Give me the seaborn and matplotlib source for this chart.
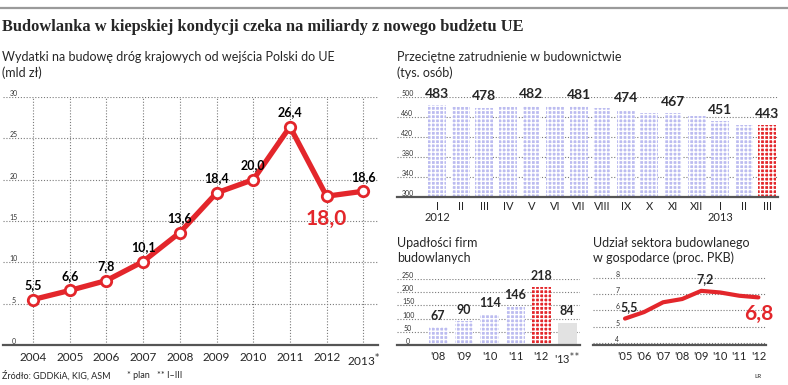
import matplotlib
matplotlib.use("Agg")
import matplotlib.pyplot as plt
from matplotlib.lines import Line2D
import seaborn as sns
import pandas as pd

# ---------------- data ----------------
years = [2004, 2005, 2006, 2007, 2008, 2009, 2010, 2011, 2012, 2013]
year_labels = ["2004", "2005", "2006", "2007", "2008", "2009", "2010", "2011", "2012", r"2013$^{*}$"]
spending = [5.5, 6.6, 7.8, 10.1, 13.6, 18.4, 20.0, 26.4, 18.0, 18.6]

months = ["I", "II", "III", "IV", "V", "VI", "VII", "VIII", "IX", "X", "XI", "XII", "I", "II", "III"]
month_years = ["2012", "", "", "", "", "", "", "", "", "", "", "", "2013", "", ""]
employment = [483, 479, 478, 480, 482, 481, 481, 477, 474, 468, 467, 461, 451, 444, 443]
employment_labeled = [True, False, True, False, True, False, True, False, True, False, True, False, True, False, True]

bank_years = ["'08", "'09", "'10", "'11", "'12", r"'13$^{**}$"]
bankruptcies = [67, 90, 114, 146, 218, 84]

gdp_years = ["'05", "'06", "'07", "'08", "'09", "'10", "'11", "'12"]
gdp_share = [5.5, 5.9, 6.5, 6.7, 7.2, 7.1, 6.9, 6.8]
gdp_labeled = {0: "5,5", 4: "7,2"}

RED = "#e3262b"
BLUE = "#bcbcf0"
GRAY_BAR = "#e2e2e2"
GRID = "#7a7a7a"

sns.set_theme(style="white")
plt.rcParams["font.family"] = ["Lato", "DejaVu Sans"]
plt.rcParams["hatch.linewidth"] = 1.0
plt.rcParams["hatch.color"] = "white"

W, H = 788, 385
fig = plt.figure(figsize=(W / 100, H / 100), dpi=100)
fig.patch.set_facecolor("white")


def add_ax(x0, y0, x1, y1):
    return fig.add_axes([x0 / W, 1 - y1 / H, (x1 - x0) / W, (y1 - y0) / H])


def ftext(px, py, s, **kw):
    fig.text(px / W, 1 - py / H, s, **kw)


def style_axes(ax, yticks, ylabels, center_off_pt):
    for s in ["top", "right", "left"]:
        ax.spines[s].set_visible(False)
    ax.spines["bottom"].set_color("#555555")
    ax.spines["bottom"].set_linewidth(1.6)
    ax.spines["bottom"].set_zorder(5)
    ax.set_facecolor("none")
    ax.set_yticks(yticks)
    ax.set_yticklabels(ylabels, fontsize=5, color="#333333", ha="center", va="bottom")
    ax.tick_params(axis="y", length=0, pad=-center_off_pt)
    ax.tick_params(axis="x", length=0)
    ax.grid(axis="y", color=GRID, linestyle=(0, (1, 1.6)), linewidth=0.8)
    ax.set_axisbelow(True)
    ax.set_xlabel("")
    ax.set_ylabel("")


# top rule and title
fig.add_artist(Line2D([0, 1], [1 - 8 / H, 1 - 8 / H], color="#9a9a9a", linewidth=1.6))
ftext(2, 27, "Budowlanka w kiepskiej kondycji czeka na miliardy z nowego budżetu UE",
      fontsize=11.8, fontweight="bold", family=["Liberation Serif"], va="center", ha="left")

# ---------------- left: spending ----------------
ax1 = add_ax(3, 97, 378, 345)
df1 = pd.DataFrame({"year": years, "value": spending})
sns.lineplot(data=df1, x="year", y="value", ax=ax1, color=RED, linewidth=3.8,
             marker="o", markersize=7.5, markerfacecolor="white", markeredgecolor=RED,
             markeredgewidth=2, zorder=3, clip_on=False)
ax1.set_xlim(2003.18, 2013.4)
ax1.set_ylim(0, 30)
style_axes(ax1, [0, 5, 10, 15, 20, 25, 30], ["0", "5", "10", "15", "20", "25", "30"], 7.5)
ax1.set_xticks(years)
ax1.set_xticklabels(year_labels, fontsize=8.5)
ax1.tick_params(axis="x", pad=5)
ax1.grid(axis="x", color=GRID, linestyle=(0, (1, 1.6)), linewidth=0.8)
for i, (x, v) in enumerate(zip(years, spending)):
    lab = f"{v:.1f}".replace(".", ",")
    if x == 2012:
        ax1.annotate(lab, (x, v), xytext=(0, -9), textcoords="offset points",
                     ha="center", va="top", fontsize=15, fontweight="bold", color=RED)
    else:
        ax1.annotate(lab, (x, v), xytext=(0, 6), textcoords="offset points",
                     ha="center", va="bottom", fontsize=9, fontweight="bold", color="black")

ftext(2, 57, "Wydatki na budowę dróg krajowych od wejścia Polski do UE", fontsize=9, va="center")
ftext(2, 73, "(mld zł)", fontsize=9, va="center")
ftext(2, 376, "Źródło: GDDKiA, KIG, ASM", fontsize=6.5, va="center")
ftext(127, 376, "* plan", fontsize=6.5, va="center")
ftext(157, 376, "** I–III", fontsize=6.5, va="center")

# ---------------- top right: employment ----------------
ax2 = add_ax(397, 97, 778, 197)
df2 = pd.DataFrame({"idx": list(range(len(months))), "value": employment})
cols2 = [BLUE] * (len(months) - 1) + [RED]
sns.barplot(data=df2, x="idx", y="value", hue="idx", palette=cols2, legend=False,
            width=0.76, ax=ax2, saturation=1)
for p in ax2.patches:
    p.set_hatch("++++")
    p.set_edgecolor("white")
    p.set_linewidth(0)
ax2.set_xlim(-1.7, 14.45)
ax2.set_ylim(300, 500)
style_axes(ax2, [300, 340, 380, 420, 460, 500], ["300", "340", "380", "420", "460", "500"], 7.5)
ax2.set_xticks(range(len(months)))
ax2.set_xticklabels([m + ("\n" + y if y else "") for m, y in zip(months, month_years)],
                    fontsize=8, linespacing=1.0, va="top")
ax2.tick_params(axis="x", pad=3)
for i, (v, show) in enumerate(zip(employment, employment_labeled)):
    if show:
        ax2.annotate(str(v), (i, v), xytext=(0, 4), textcoords="offset points",
                     ha="center", va="bottom", fontsize=10, fontweight="bold")

ftext(397, 57, "Przeciętne zatrudnienie w budownictwie", fontsize=9, va="center")
ftext(397, 73, "(tys. osób)", fontsize=9, va="center")

# ---------------- bottom middle: bankruptcies ----------------
ax3 = add_ax(397, 279, 580, 345)
df3 = pd.DataFrame({"year": bank_years, "value": bankruptcies})
cols3 = [BLUE, BLUE, BLUE, BLUE, RED, GRAY_BAR]
sns.barplot(data=df3, x="year", y="value", hue="year", palette=cols3, legend=False,
            width=0.73, ax=ax3, saturation=1)
for k, p in enumerate(ax3.patches):
    if k < 5:
        p.set_hatch("++++")
    p.set_edgecolor("white")
    p.set_linewidth(0)
ax3.set_xlim(-1.6, 5.5)
ax3.set_ylim(0, 250)
style_axes(ax3, [0, 50, 100, 150, 200, 250], ["0", "50", "100", "150", "200", "250"], 8)
ax3.set_xticks(range(len(bank_years)))
ax3.set_xticklabels(bank_years, fontsize=8)
ax3.tick_params(axis="x", pad=4)
for i, v in enumerate(bankruptcies):
    ax3.annotate(str(v), (i, v), xytext=(0, 4), textcoords="offset points",
                 ha="center", va="bottom", fontsize=9, fontweight="bold")

ftext(397, 243, "Upadłości firm", fontsize=9, va="center")
ftext(397, 258, "budowlanych", fontsize=9, va="center")

# ---------------- bottom right: GDP share ----------------
ax4 = add_ax(593, 277, 766, 345)
df4 = pd.DataFrame({"year": gdp_years, "value": gdp_share})
sns.lineplot(data=df4, x="year", y="value", ax=ax4, color=RED, linewidth=3, sort=False)
ax4.set_xlim(-1.68, 7.4)
ax4.set_ylim(3.88, 8.05)
style_axes(ax4, [4, 5, 6, 7, 8], ["4", "5", "6", "7", "8"], 17.5)
ax4.set_xticks(range(len(gdp_years)))
ax4.set_xticklabels(gdp_years, fontsize=8)
ax4.tick_params(axis="x", pad=4)
for i, lab in gdp_labeled.items():
    ax4.annotate(lab, (i, gdp_share[i]), xytext=(3, 4), textcoords="offset points",
                 ha="center", va="bottom", fontsize=9, fontweight="bold")
ax4.annotate("6,8", (7, gdp_share[7]), xytext=(0, -5), textcoords="offset points",
             ha="center", va="top", fontsize=15, fontweight="bold", color=RED)

ftext(593, 243, "Udział sektora budowlanego", fontsize=9, va="center")
ftext(593, 258, "w gospodarce (proc. PKB)", fontsize=9, va="center")
ftext(758, 377, "LR", fontsize=4.5, va="center", ha="center")

fig.savefig("out.png", dpi=100, facecolor="white")
